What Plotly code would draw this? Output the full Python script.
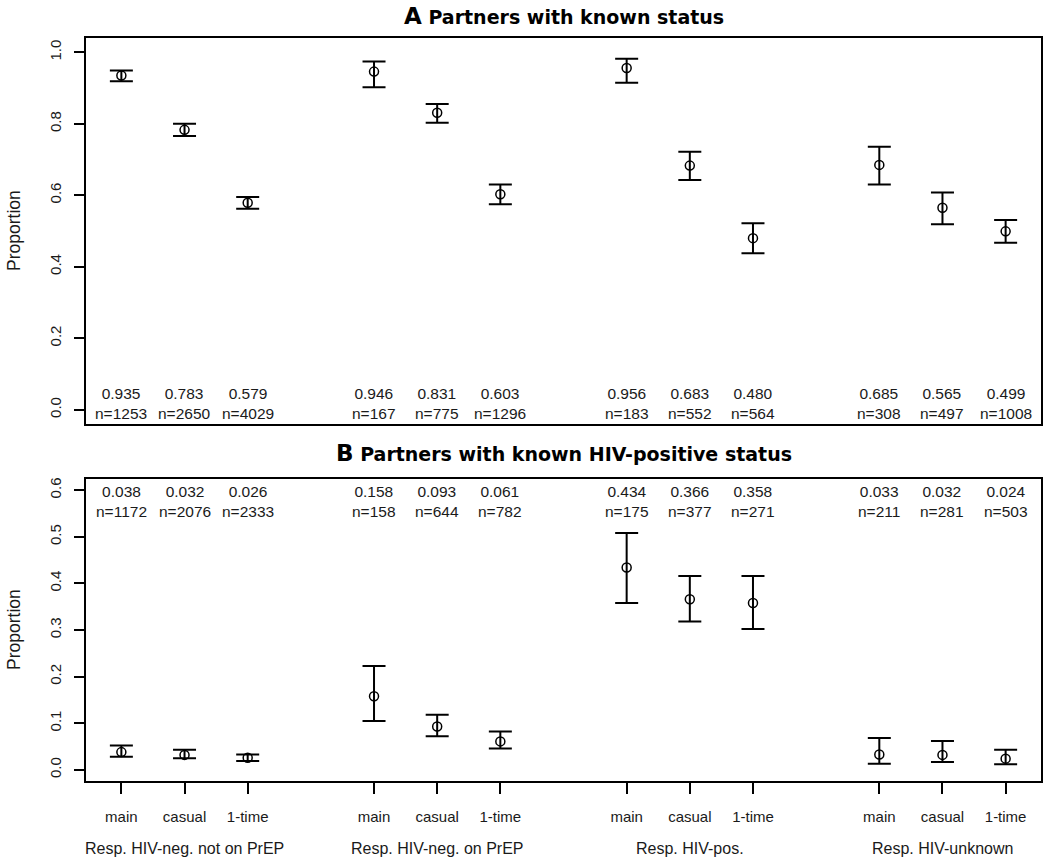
import plotly.graph_objects as go

# ---------------- data ----------------
partner_types = ["main", "casual", "1-time"]
groups = ["Resp. HIV-neg. not on PrEP", "Resp. HIV-neg. on PrEP", "Resp. HIV-pos.", "Resp. HIV-unknown"]
x_pos = [1, 2, 3, 5, 6, 7, 9, 10, 11, 13, 14, 15]
group_centers = [2, 6, 10, 14]
tick_labels = partner_types * 4

# Panel A: Partners with known status
a_prop = [0.935, 0.783, 0.579, 0.946, 0.831, 0.603, 0.956, 0.683, 0.480, 0.685, 0.565, 0.499]
a_low = [0.919, 0.766, 0.562, 0.902, 0.803, 0.575, 0.915, 0.643, 0.438, 0.630, 0.519, 0.467]
a_high = [0.949, 0.800, 0.595, 0.974, 0.855, 0.630, 0.982, 0.722, 0.522, 0.736, 0.608, 0.531]
a_n = [1253, 2650, 4029, 167, 775, 1296, 183, 552, 564, 308, 497, 1008]

# Panel B: Partners with known HIV-positive status
b_prop = [0.038, 0.032, 0.026, 0.158, 0.093, 0.061, 0.434, 0.366, 0.358, 0.033, 0.032, 0.024]
b_low = [0.028, 0.025, 0.019, 0.105, 0.072, 0.046, 0.358, 0.318, 0.302, 0.013, 0.017, 0.012]
b_high = [0.052, 0.043, 0.033, 0.223, 0.118, 0.082, 0.508, 0.416, 0.416, 0.068, 0.062, 0.043]
b_n = [1172, 2076, 2333, 158, 644, 782, 175, 377, 271, 211, 281, 503]

# ---------------- layout constants ----------------
W, H = 1050, 861
def py(px):
    return 1 - px / H
def pxx(px):
    return px / W

XDOM = [pxx(86), pxx(1041)]
A_DOM = [py(424), py(38)]
B_DOM = [py(781), py(479)]
XR = [0.44, 15.56]

TXT = "Liberation Sans, Arial, sans-serif"
TTL = "DejaVu Sans, Verdana, sans-serif"
TC = "#1a1a1a"

fig = go.Figure()

def add_panel(prop, low, high, xa, ya):
    fig.add_trace(go.Scatter(
        x=x_pos, y=prop, mode="markers", xaxis=xa, yaxis=ya,
        marker=dict(symbol="circle-open", size=9, color="black", line=dict(width=1.5, color="black")),
        error_y=dict(type="data", symmetric=False,
                     array=[h - p for h, p in zip(high, prop)],
                     arrayminus=[p - l for p, l in zip(prop, low)],
                     color="black", thickness=2, width=11.5),
        showlegend=False, hoverinfo="skip"))

add_panel(a_prop, a_low, a_high, "x", "y")
add_panel(b_prop, b_low, b_high, "x2", "y2")

axis_common = dict(showline=True, linecolor="black", linewidth=2, mirror=True,
                   showgrid=False, zeroline=False)

fig.update_layout(
    width=W, height=H,
    margin=dict(l=0, r=0, t=0, b=0),
    paper_bgcolor="white", plot_bgcolor="white",
    font=dict(family=TXT, color=TC, size=15),
    xaxis=dict(domain=XDOM, anchor="y", range=XR, showticklabels=False, ticks="", **axis_common),
    yaxis=dict(domain=A_DOM, anchor="x", range=[-0.04, 1.04],
               tickvals=[0, 0.2, 0.4, 0.6, 0.8, 1.0], tickformat=".1f",
               ticks="outside", ticklen=10, tickwidth=1.5, tickcolor="black",
               tickangle=-90, tickfont=dict(size=15, family=TXT, color=TC),
               ticklabelstandoff=7, **axis_common),
    xaxis2=dict(domain=XDOM, anchor="y2", range=XR,
                tickvals=x_pos, ticktext=tick_labels,
                ticks="outside", ticklen=11, tickwidth=1.5, tickcolor="black",
                tickfont=dict(size=15, family=TXT, color=TC),
                ticklabelstandoff=10, **axis_common),
    yaxis2=dict(domain=B_DOM, anchor="x2", range=[-0.024, 0.624],
                tickvals=[0, 0.1, 0.2, 0.3, 0.4, 0.5, 0.6], tickformat=".1f",
                ticks="outside", ticklen=10, tickwidth=1.5, tickcolor="black",
                tickangle=-90, tickfont=dict(size=15, family=TXT, color=TC),
                ticklabelstandoff=7, **axis_common),
)

ann = []
# value / n annotations
for x, p, n in zip(x_pos, a_prop, a_n):
    ann.append(dict(x=x, xref="x", y=py(404), yref="paper", showarrow=False,
                    text=f"{p:.3f}<br>n={n}", font=dict(size=15.5, family=TXT, color=TC),
                    align="center", yanchor="middle"))
for x, p, n in zip(x_pos, b_prop, b_n):
    ann.append(dict(x=x, xref="x2", y=py(501), yref="paper", showarrow=False,
                    text=f"{p:.3f}<br>n={n}", font=dict(size=15.5, family=TXT, color=TC),
                    align="center", yanchor="middle"))
# group labels
for g, c in zip(groups, group_centers):
    ann.append(dict(x=c, xref="x2", y=py(848), yref="paper", showarrow=False,
                    text=g, font=dict(size=16, family=TXT, color=TC), yanchor="middle"))
# y-axis titles
for yc in (py(231), py(630)):
    ann.append(dict(x=pxx(14), xref="paper", y=yc, yref="paper", showarrow=False,
                    text="Proportion", textangle=-90, font=dict(size=17.5, family=TXT, color=TC),
                    xanchor="center", yanchor="middle"))
# panel titles
xc = (XDOM[0] + XDOM[1]) / 2
ann.append(dict(x=xc, xref="paper", y=py(16), yref="paper", showarrow=False,
                text="<b><span style='font-size:23px'>A</span> Partners with known status</b>",
                font=dict(size=19, family=TTL, color="black"), yanchor="middle"))
ann.append(dict(x=xc, xref="paper", y=py(453), yref="paper", showarrow=False,
                text="<b><span style='font-size:23px'>B</span> Partners with known HIV-positive status</b>",
                font=dict(size=19, family=TTL, color="black"), yanchor="middle"))
fig.update_layout(annotations=ann)

# remove the default page margin so the figure fills the 1050x861 window exactly
fig.write_html("out.html", config={"displayModeBar": False},
               post_script="document.body.style.margin='0px';")
